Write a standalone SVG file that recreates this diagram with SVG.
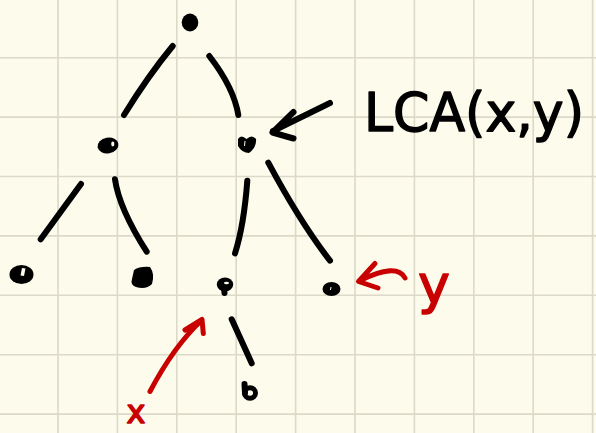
<svg xmlns="http://www.w3.org/2000/svg" width="596" height="433" viewBox="0 0 596 433">
<defs>
<style>
.bg{fill:#fdfbec}
.grid line{stroke:#dcd9c9;stroke-width:1.6}
.edge{fill:none;stroke:#000;stroke-width:6;stroke-linecap:round;stroke-linejoin:round}
.red{fill:none;stroke:#c80000;stroke-width:5;stroke-linecap:round;stroke-linejoin:round}
.node{fill:#000}
.hole{fill:#fdfbec}
.hand{font-family:"DejaVu Sans","Liberation Sans",sans-serif;stroke-linejoin:round}
.lbl{fill:#000;stroke:#000;stroke-width:1.5}
.rlbl{fill:#c80000;stroke:#c80000;stroke-width:1.5}
</style>
</defs>
<rect class="bg" x="0" y="0" width="596" height="433"/>
<g class="grid">
<line x1="58" y1="0" x2="58" y2="433"/><line x1="117.4" y1="0" x2="117.4" y2="433"/><line x1="176.8" y1="0" x2="176.8" y2="433"/><line x1="236.2" y1="0" x2="236.2" y2="433"/><line x1="295.6" y1="0" x2="295.6" y2="433"/><line x1="355" y1="0" x2="355" y2="433"/><line x1="414.4" y1="0" x2="414.4" y2="433"/><line x1="473.8" y1="0" x2="473.8" y2="433"/><line x1="533.2" y1="0" x2="533.2" y2="433"/><line x1="592.6" y1="0" x2="592.6" y2="433"/>
<line x1="0" y1="57.7" x2="596" y2="57.7"/><line x1="0" y1="117.1" x2="596" y2="117.1"/><line x1="0" y1="176.5" x2="596" y2="176.5"/><line x1="0" y1="235.9" x2="596" y2="235.9"/><line x1="0" y1="295.3" x2="596" y2="295.3"/><line x1="0" y1="354.7" x2="596" y2="354.7"/><line x1="0" y1="414.1" x2="596" y2="414.1"/>
</g>
<g id="connectors">
<path class="edge" d="M172.7,46 Q148,76 124,115"/>
<path class="edge" d="M209.3,56 Q234,88 238.3,115"/>
<path class="edge" d="M81,184 L40.7,239.3"/>
<path class="edge" d="M115,179.3 Q119,208 146.7,251.7"/>
<path class="edge" d="M247.3,180.7 Q244,225 235,253.3"/>
<path class="edge" d="M268.3,162.7 Q300,222 330,260.7"/>
<path class="edge" d="M231.7,319.3 L251.7,363.3"/>
<path class="edge" d="M330,103 L273,131 M293.5,112 L272.5,132.5 L293.5,138.5"/>
<path class="red" d="M150,391.5 Q174,346 201.5,320.5 M185,330 L202,319.5 L203.3,333.5"/>
<path class="red" d="M405,278 Q397,262 359,281 M375,263.5 L358.5,281.5 L378,288"/>
</g>
<g id="root"><ellipse class="node" cx="190" cy="22.5" rx="8.3" ry="9"/></g>
<g id="left"><ellipse class="node" cx="108" cy="145.5" rx="10.5" ry="7.8" transform="rotate(-10 108 145.5)"/><ellipse class="hole" cx="112.8" cy="144" rx="1.6" ry="2.4"/></g>
<g id="lca"><path class="node" d="M238,139 Q241,134 246.5,139 Q252,134 256,139 Q257,147 249,153 Q242,153 238,146 Z"/><path d="M245,141 L244.5,146" stroke="#fdfbec" stroke-width="1"/></g>
<g id="ll"><ellipse class="node" cx="21.5" cy="274.5" rx="12" ry="9.5"/><path class="hole" d="M22,268 L25.5,268.5 L24,276 L20.5,275.5 Z"/></g>
<g id="lr"><path class="node" d="M134,270 Q140,266 150,267 Q155,274 152,284 Q146,290 136,287 Q130,285 132,279 Z"/></g>
<g id="rl"><ellipse class="node" cx="225" cy="284.5" rx="8.2" ry="7"/><path class="edge" d="M224,287 L224.5,293"/><ellipse class="hole" cx="226.5" cy="283" rx="2.5" ry="1.3"/></g>
<g id="rr"><ellipse class="node" cx="331.5" cy="289" rx="9" ry="7"/><path d="M331,287 L330.5,290" stroke="#fdfbec" stroke-width="1"/></g>
<g id="b"><ellipse cx="250" cy="393" rx="5.5" ry="5.3" fill="none" stroke="#000" stroke-width="5"/><path class="edge" d="M244.5,384 L245,393"/></g>
<g id="labels">
<text class="hand lbl" x="364" y="131" font-size="54" textLength="220" lengthAdjust="spacingAndGlyphs">LCA(x,y)</text>
<text class="hand rlbl" x="136" y="423" font-size="32" text-anchor="middle">x</text>
<text class="hand rlbl" x="434" y="303" font-size="54" text-anchor="middle">y</text>
</g>
</svg>
